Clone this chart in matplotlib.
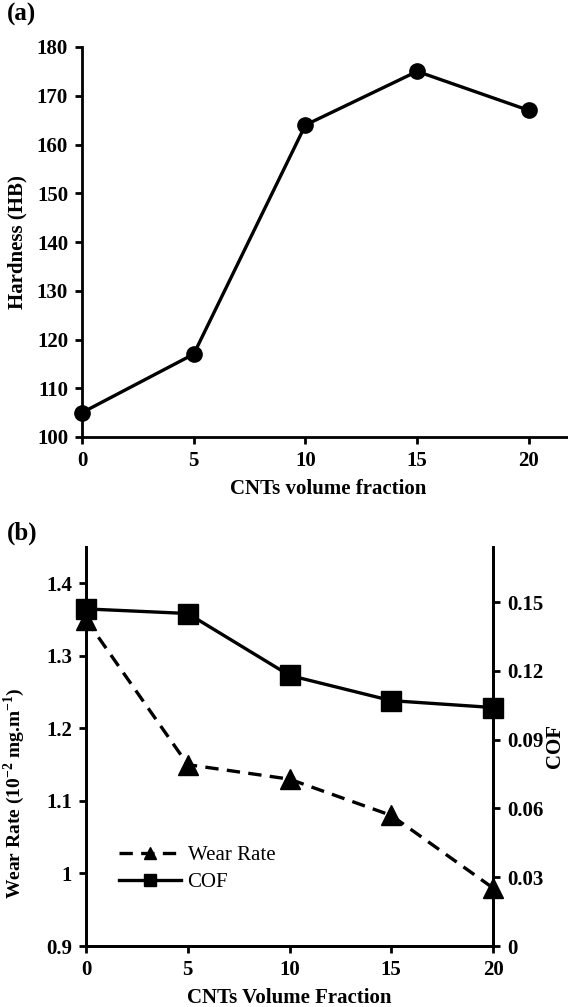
import matplotlib
matplotlib.use("Agg")
import matplotlib.pyplot as plt

plt.rcParams['font.family'] = ['Liberation Serif', 'DejaVu Serif']
plt.rcParams['mathtext.fontset'] = 'custom'
plt.rcParams['mathtext.rm'] = 'Liberation Serif:bold'
plt.rcParams['mathtext.bf'] = 'Liberation Serif:bold'

# Data
cnt_fraction = [0, 5, 10, 15, 20]
hardness = [105, 117, 164, 175, 167]
wear_rate = [1.35, 1.15, 1.13, 1.08, 0.98]
cof = [0.147, 0.145, 0.118, 0.107, 0.104]
x_ticks = [0, 5, 10, 15, 20]
hard_ticks = [100, 110, 120, 130, 140, 150, 160, 170, 180]
wear_ticks = [0.9, 1.0, 1.1, 1.2, 1.3, 1.4]
wear_labels = ['0.9', '1', '1.1', '1.2', '1.3', '1.4']
cof_ticks = [0, 0.03, 0.06, 0.09, 0.12, 0.15]
cof_labels = ['0', '0.03', '0.06', '0.09', '0.12', '0.15']

W, H = 568, 1007
fig = plt.figure(figsize=(W / 100, H / 100), dpi=100)

FS = 15
LW_SP = 2.0

def style_axis(ax):
    ax.tick_params(direction='out', width=LW_SP, length=5, labelsize=FS, pad=5)
    for lab in ax.get_xticklabels() + ax.get_yticklabels():
        lab.set_fontweight('bold')
    for s in ax.spines.values():
        s.set_linewidth(LW_SP)

# ---------- (a) ----------
ax1 = fig.add_axes([82 / W, 1 - 437 / H, (W - 82) / W + 0.01, (437 - 47) / H])
ax1.plot(cnt_fraction, hardness, color='black', lw=2.4, marker='o', ms=11, clip_on=False, zorder=3)
ax1.set_xlim(0, 21.75 + 0.01 * W / 22.3)
ax1.set_ylim(100, 180)
ax1.set_xticks(x_ticks)
ax1.set_yticks(hard_ticks)
ax1.spines['top'].set_visible(False)
ax1.spines['right'].set_visible(False)
style_axis(ax1)
ax1.set_ylabel('Hardness (HB)', fontsize=FS, fontweight='bold')
ax1.yaxis.set_label_coords((27 - 82) / (W - 82 + 5.68), 0.5)
ax1.set_xlabel('CNTs volume fraction', fontsize=FS, fontweight='bold', labelpad=6)
fig.text(7 / W, 1 - 3 / H, '(a)', fontsize=18, fontweight='bold', va='top', ha='left')

# ---------- (b) ----------
ax2 = fig.add_axes([86 / W, 1 - 946 / H, (493 - 86) / W, (946 - 547) / H])
ax3 = ax2.twinx()
l1, = ax2.plot(cnt_fraction, wear_rate, color='black', lw=2.4, ls=(0, (4, 2.5)), marker='^', ms=14,
               clip_on=False, zorder=3, label='Wear Rate')
l2, = ax3.plot(cnt_fraction, cof, color='black', lw=2.4, marker='s', ms=14,
               clip_on=False, zorder=3, label='COF')
ax2.set_xlim(0, 20)
ax2.set_ylim(0.9, 1.45)
ax3.set_ylim(0, 0.174)
ax2.set_xticks(x_ticks)
ax2.set_yticks(wear_ticks)
ax2.set_yticklabels(wear_labels)
ax3.set_yticks(cof_ticks)
ax3.set_yticklabels(cof_labels)
for a in (ax2, ax3):
    a.spines['top'].set_visible(False)
    style_axis(a)
ax2.set_ylabel(r'Wear Rate (10$^{-2}$ mg.m$^{-1}$)', fontsize=14, fontweight='bold')
ax2.yaxis.set_label_coords((27 - 86) / 407, 0.383)
ax3.set_ylabel('COF', fontsize=FS, fontweight='bold', rotation=90)
ax3.yaxis.set_label_coords((545 - 86) / 407, 0.5)
ax2.set_xlabel('CNTs Volume Fraction', fontsize=FS, fontweight='bold')
ax2.xaxis.set_label_coords(0.5, -0.105)
leg = ax2.legend(handles=[l1, l2], loc='upper left', bbox_to_anchor=(0.06, 0.272), frameon=False,
                 prop={'family': 'Liberation Serif', 'size': FS}, handlelength=3.0,
                 handletextpad=0.3, markerscale=0.65, labelspacing=0.35, borderaxespad=0)
fig.text(7 / W, 1 - 522 / H, '(b)', fontsize=18, fontweight='bold', va='top', ha='left')

fig.savefig('out.png', dpi=100)
